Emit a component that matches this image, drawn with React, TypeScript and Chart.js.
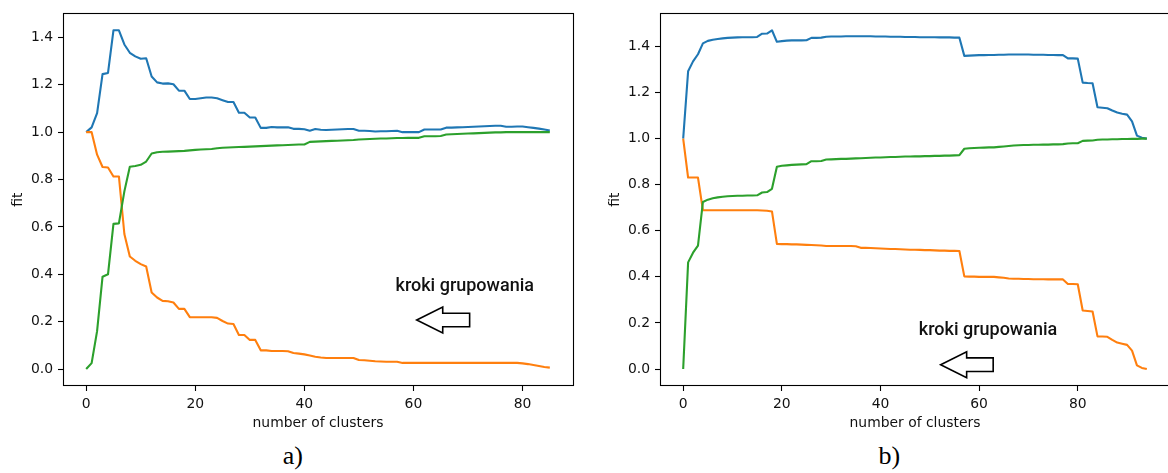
import React, { useEffect, useRef } from "react";
import { Chart, registerables } from "chart.js";

Chart.register(...registerables);

// Series colours (matplotlib tab10)
const BLUE = "#1f77b4";
const ORANGE = "#ff7f0e";
const GREEN = "#2ca02c";

// Panel a) – fit measures against number of clusters (x = 0..85)
const aBlue = [
  1.000, 1.020, 1.080, 1.245, 1.250, 1.430, 1.430, 1.370, 1.335, 1.320,
  1.310, 1.312, 1.235, 1.210, 1.205, 1.206, 1.202, 1.175, 1.175, 1.140,
  1.140, 1.143, 1.146, 1.146, 1.143, 1.135, 1.127, 1.127, 1.082, 1.082,
  1.062, 1.062, 1.018, 1.018, 1.022, 1.020, 1.020, 1.021, 1.014, 1.014,
  1.012, 1.006, 1.013, 1.010, 1.009, 1.010, 1.011, 1.012, 1.013, 1.013,
  1.006, 1.006, 1.005, 1.003, 1.004, 1.004, 1.005, 1.006, 1.000, 1.000,
  1.000, 1.000, 1.011, 1.011, 1.011, 1.011, 1.019, 1.019, 1.020, 1.021,
  1.022, 1.023, 1.024, 1.025, 1.026, 1.027, 1.027, 1.023, 1.023, 1.024,
  1.024, 1.021, 1.018, 1.015, 1.011, 1.007,
];
const aOrange = [
  1.000, 1.000, 0.905, 0.853, 0.851, 0.813, 0.813, 0.570, 0.475, 0.457,
  0.443, 0.433, 0.323, 0.302, 0.288, 0.286, 0.281, 0.254, 0.254, 0.219,
  0.219, 0.219, 0.219, 0.219, 0.216, 0.203, 0.192, 0.190, 0.144, 0.144,
  0.123, 0.123, 0.079, 0.079, 0.076, 0.076, 0.076, 0.075, 0.068, 0.065,
  0.062, 0.057, 0.052, 0.049, 0.047, 0.047, 0.047, 0.047, 0.047, 0.047,
  0.038, 0.037, 0.035, 0.033, 0.032, 0.031, 0.031, 0.031, 0.026, 0.026,
  0.026, 0.026, 0.026, 0.026, 0.026, 0.026, 0.026, 0.026, 0.026, 0.026,
  0.026, 0.026, 0.026, 0.026, 0.026, 0.026, 0.026, 0.026, 0.026, 0.026,
  0.024, 0.021, 0.017, 0.013, 0.009, 0.006,
];
const aGreen = [
  0.000, 0.025, 0.160, 0.390, 0.400, 0.613, 0.615, 0.750, 0.854, 0.857,
  0.862, 0.876, 0.910, 0.915, 0.917, 0.918, 0.919, 0.920, 0.921, 0.923,
  0.925, 0.927, 0.928, 0.929, 0.932, 0.934, 0.935, 0.936, 0.937, 0.938,
  0.939, 0.940, 0.941, 0.942, 0.943, 0.944, 0.945, 0.946, 0.947, 0.948,
  0.948, 0.959, 0.960, 0.961, 0.962, 0.963, 0.964, 0.965, 0.966, 0.967,
  0.969, 0.970, 0.971, 0.972, 0.973, 0.973, 0.974, 0.975, 0.975, 0.976,
  0.976, 0.976, 0.983, 0.983, 0.983, 0.984, 0.990, 0.991, 0.992, 0.993,
  0.994, 0.995, 0.996, 0.997, 0.998, 0.999, 0.999, 1.000, 1.000, 1.000,
  1.000, 1.000, 1.000, 1.000, 1.000, 1.000,
];

// Panel b) – fit measures against number of clusters (x = 0..94)
const bBlue = [
  1.000, 1.292, 1.335, 1.366, 1.413, 1.424, 1.429, 1.432, 1.435, 1.437,
  1.438, 1.439, 1.440, 1.440, 1.440, 1.441, 1.455, 1.456, 1.470, 1.420,
  1.423, 1.425, 1.426, 1.426, 1.426, 1.427, 1.437, 1.437, 1.438, 1.442,
  1.443, 1.443, 1.443, 1.444, 1.444, 1.444, 1.444, 1.444, 1.444, 1.443,
  1.443, 1.443, 1.442, 1.442, 1.442, 1.441, 1.441, 1.441, 1.440, 1.440,
  1.440, 1.440, 1.439, 1.439, 1.439, 1.438, 1.438, 1.359, 1.360, 1.361,
  1.362, 1.362, 1.363, 1.363, 1.364, 1.364, 1.365, 1.365, 1.365, 1.365,
  1.365, 1.364, 1.364, 1.364, 1.363, 1.363, 1.362, 1.362, 1.348, 1.348,
  1.347, 1.243, 1.241, 1.240, 1.136, 1.134, 1.132, 1.122, 1.113, 1.108,
  1.104, 1.075, 1.013, 1.004, 1.000,
];
const bOrange = [
  1.000, 0.831, 0.831, 0.831, 0.689, 0.689, 0.689, 0.689, 0.689, 0.689,
  0.689, 0.689, 0.689, 0.689, 0.689, 0.689, 0.688, 0.687, 0.684, 0.543,
  0.542, 0.542, 0.541, 0.541, 0.540, 0.539, 0.538, 0.537, 0.536, 0.534,
  0.534, 0.534, 0.534, 0.534, 0.534, 0.533, 0.526, 0.526, 0.525, 0.524,
  0.523, 0.522, 0.521, 0.521, 0.520, 0.519, 0.518, 0.518, 0.517, 0.516,
  0.516, 0.515, 0.514, 0.514, 0.513, 0.513, 0.512, 0.402, 0.401, 0.401,
  0.400, 0.400, 0.400, 0.400, 0.398, 0.396, 0.393, 0.392, 0.392, 0.391,
  0.391, 0.390, 0.390, 0.390, 0.389, 0.389, 0.389, 0.389, 0.369, 0.369,
  0.368, 0.254, 0.252, 0.250, 0.142, 0.141, 0.140, 0.127, 0.115, 0.110,
  0.105, 0.080, 0.016, 0.005, 0.000,
];
const bGreen = [
  0.000, 0.463, 0.505, 0.536, 0.725, 0.735, 0.741, 0.745, 0.748, 0.750,
  0.751, 0.752, 0.752, 0.753, 0.753, 0.754, 0.766, 0.768, 0.782, 0.878,
  0.882, 0.884, 0.886, 0.887, 0.888, 0.889, 0.902, 0.902, 0.903, 0.909,
  0.910, 0.911, 0.912, 0.912, 0.913, 0.914, 0.915, 0.916, 0.917, 0.918,
  0.918, 0.919, 0.920, 0.920, 0.921, 0.922, 0.922, 0.923, 0.923, 0.924,
  0.924, 0.925, 0.925, 0.926, 0.926, 0.927, 0.928, 0.956, 0.958, 0.959,
  0.960, 0.961, 0.962, 0.962, 0.964, 0.966, 0.968, 0.970, 0.971, 0.972,
  0.972, 0.973, 0.973, 0.974, 0.974, 0.975, 0.975, 0.976, 0.979, 0.980,
  0.980, 0.990, 0.991, 0.992, 0.995, 0.996, 0.996, 0.997, 0.997, 0.998,
  0.998, 0.999, 0.999, 1.000, 1.000,
];

// Axis ticks and labels
const xTickValues = [0, 20, 40, 60, 80];
const yTickValues = [0, 0.2, 0.4, 0.6, 0.8, 1.0, 1.2, 1.4];
const xAxisTitle = "number of clusters";
const yAxisTitle = "fit";
const noteLabel = "kroki grupowania";

// Where the "clustering steps" note sits, in data units of each panel
const noteA = { textX: 69.4, textY: 0.329, arrowTip: 60.6, arrowTail: 70.3, arrowY: 0.207 };
const noteB = { textX: 61.8, textY: 0.147, arrowTip: 52.2, arrowTail: 62.85, arrowY: 0.019 };

const TEXT_COLOR = "#111";
const AXIS_FONT = { family: '"DejaVu Sans", sans-serif', size: 13.9 };

// matplotlib-style 5 % margins around the data
function paddedRange(lo: number, hi: number): [number, number] {
  const m = (hi - lo) * 0.05;
  return [lo - m, hi + m];
}

// Full rectangular frame around the plotting area
const framePlugin = {
  id: "frame",
  afterDatasetsDraw(chart: any) {
    const { ctx, chartArea: a } = chart;
    const l = Math.floor(a.left) + 0.5;
    const r = Math.floor(a.right) + 0.5;
    const t = Math.floor(a.top) + 0.5;
    const b = Math.floor(a.bottom) + 0.5;
    ctx.save();
    ctx.strokeStyle = "#000";
    ctx.lineWidth = 1.1;
    ctx.strokeRect(l, t, r - l, b - t);
    ctx.restore();
  },
};

// Text plus an outlined left-pointing arrow
const notePlugin = {
  id: "note",
  afterDatasetsDraw(chart: any, _args: any, opts: any) {
    if (!opts || !opts.text) return;
    const { ctx } = chart;
    const xs = chart.scales.x;
    const ys = chart.scales.y;
    ctx.save();
    ctx.font = '500 18px Roboto, "DejaVu Sans", sans-serif';
    ctx.fillStyle = TEXT_COLOR;
    ctx.textAlign = "center";
    ctx.textBaseline = "alphabetic";
    ctx.fillText(opts.text, xs.getPixelForValue(opts.textX), ys.getPixelForValue(opts.textY));

    const tip = xs.getPixelForValue(opts.arrowTip);
    const tail = xs.getPixelForValue(opts.arrowTail);
    const cy = ys.getPixelForValue(opts.arrowY);
    const headLen = 26;
    const headHalf = 13;
    const shaftHalf = 6.8;
    ctx.beginPath();
    ctx.moveTo(tip, cy);
    ctx.lineTo(tip + headLen, cy - headHalf);
    ctx.lineTo(tip + headLen, cy - shaftHalf);
    ctx.lineTo(tail, cy - shaftHalf);
    ctx.lineTo(tail, cy + shaftHalf);
    ctx.lineTo(tip + headLen, cy + shaftHalf);
    ctx.lineTo(tip + headLen, cy + headHalf);
    ctx.closePath();
    ctx.fillStyle = "#fff";
    ctx.fill();
    ctx.lineWidth = 1.6;
    ctx.lineJoin = "miter";
    ctx.strokeStyle = "#000";
    ctx.stroke();
    ctx.restore();
  },
};

type PanelProps = {
  left: number;
  blue: number[];
  orange: number[];
  green: number[];
  note: typeof noteA;
};

const CANVAS_W = 590;
const CANVAS_H = 440;

function FitPanel({ left, blue, orange, green, note }: PanelProps) {
  const ref = useRef<HTMLCanvasElement | null>(null);

  useEffect(() => {
    if (!ref.current) return;
    const n = blue.length;
    const [xMin, xMax] = paddedRange(0, n - 1);
    const all = [...blue, ...orange, ...green];
    const [yMin, yMax] = paddedRange(Math.min(...all), Math.max(...all));
    const toPoints = (arr: number[]) => arr.map((v, i) => ({ x: i, y: v }));
    const line = (label: string, arr: number[], color: string, order: number) => ({
      label,
      data: toPoints(arr),
      borderColor: color,
      backgroundColor: color,
      borderWidth: 2.1,
      pointRadius: 0,
      tension: 0,
      fill: false,
      borderJoinStyle: "round" as const,
      order,
    });

    const chart = new Chart(ref.current, {
      type: "line",
      data: {
        datasets: [
          line("blue", blue, BLUE, 2),
          line("orange", orange, ORANGE, 1),
          line("green", green, GREEN, 0),
        ],
      },
      options: {
        animation: false,
        responsive: false,
        devicePixelRatio: 1,
        events: [],
        layout: { padding: { left: 0, top: 6.7, right: 17, bottom: 0 } },
        plugins: {
          legend: { display: false },
          tooltip: { enabled: false },
          note: { text: noteLabel, ...note },
        } as any,
        scales: {
          x: {
            type: "linear",
            min: xMin,
            max: xMax,
            afterBuildTicks: (s: any) => {
              s.ticks = xTickValues.map((v) => ({ value: v }));
            },
            afterFit: (s: any) => {
              s.height = 54;
            },
            grid: { drawOnChartArea: false, drawTicks: true, tickLength: 5, tickColor: "#000", tickWidth: 1.1 },
            border: { display: false },
            ticks: {
              autoSkip: false,
              maxRotation: 0,
              minRotation: 0,
              padding: 5,
              color: TEXT_COLOR,
              font: AXIS_FONT,
              callback: (v: any) => String(v),
            },
            title: {
              display: true,
              text: xAxisTitle,
              color: TEXT_COLOR,
              font: AXIS_FONT,
              padding: { top: 0, bottom: 8 },
            },
          },
          y: {
            type: "linear",
            min: yMin,
            max: yMax,
            afterBuildTicks: (s: any) => {
              s.ticks = yTickValues.map((v) => ({ value: v }));
            },
            afterFit: (s: any) => {
              s.width = 63;
            },
            grid: { drawOnChartArea: false, drawTicks: true, tickLength: 5, tickColor: "#000", tickWidth: 1.1 },
            border: { display: false },
            ticks: {
              autoSkip: false,
              padding: 5,
              color: TEXT_COLOR,
              font: AXIS_FONT,
              callback: (v: any) => Number(v).toFixed(1),
            },
            title: {
              display: true,
              text: yAxisTitle,
              color: TEXT_COLOR,
              font: AXIS_FONT,
              padding: { top: 10, bottom: 0 },
            },
          },
        },
      },
      plugins: [framePlugin, notePlugin],
    });
    return () => chart.destroy();
  }, [blue, orange, green, note]);

  return (
    <canvas
      ref={ref}
      width={CANVAS_W}
      height={CANVAS_H}
      style={{ position: "absolute", left, top: 0, width: CANVAS_W, height: CANVAS_H }}
    />
  );
}

const captionStyle: React.CSSProperties = {
  position: "absolute",
  top: 443.3,
  width: 80,
  textAlign: "center",
  fontFamily: '"Liberation Serif", "Times New Roman", serif',
  fontSize: 26,
  lineHeight: "26px",
  color: "#000",
};

export default function App() {
  return (
    <div
      style={{
        position: "fixed",
        left: 0,
        top: 0,
        width: 1168,
        height: 473,
        background: "#fff",
        overflow: "hidden",
      }}
    >
      <FitPanel left={0} blue={aBlue} orange={aOrange} green={aGreen} note={noteA} />
      <FitPanel left={597} blue={bBlue} orange={bOrange} green={bGreen} note={noteB} />
      <div style={{ ...captionStyle, left: 292.8 - 40 }}>a)</div>
      <div style={{ ...captionStyle, left: 889.3 - 40 }}>b)</div>
    </div>
  );
}
